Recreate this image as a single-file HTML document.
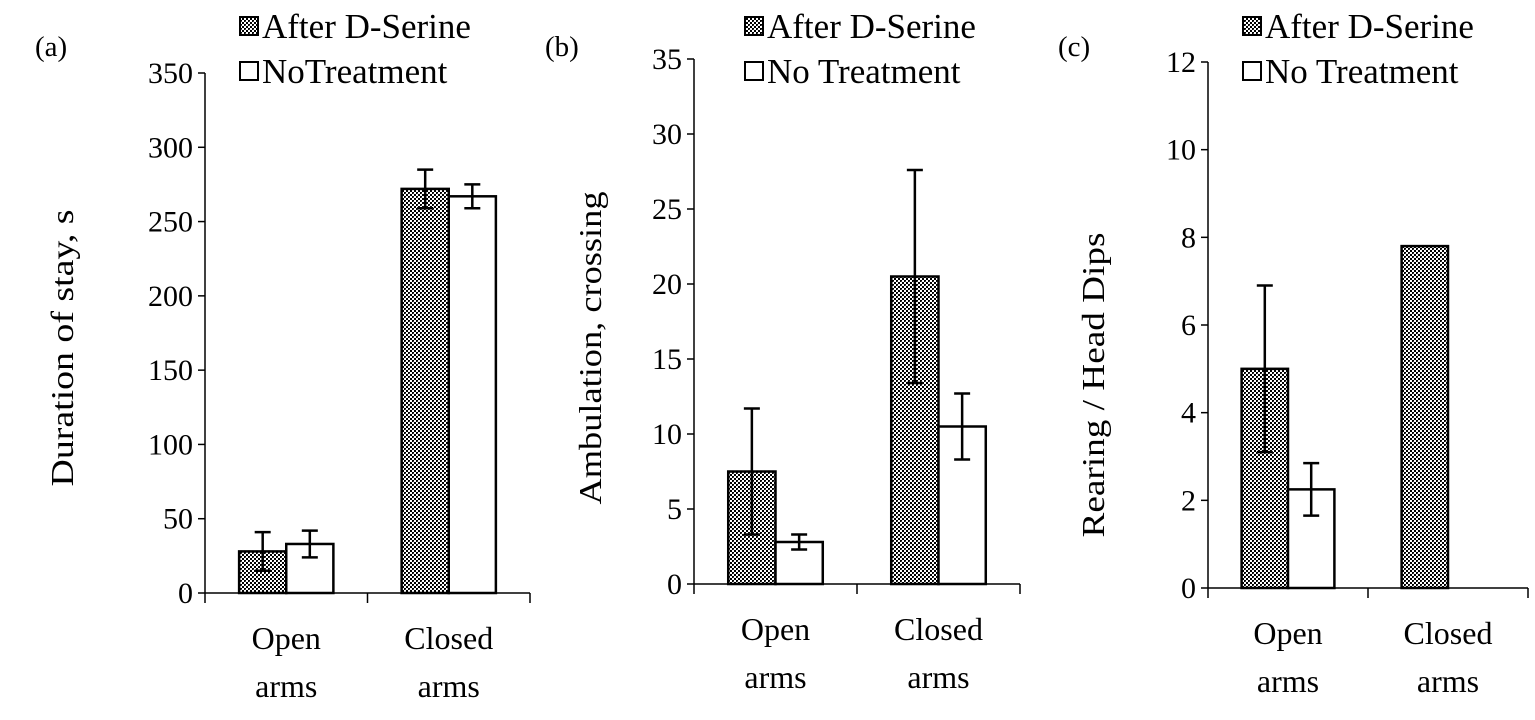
<!DOCTYPE html>
<html><head><meta charset="utf-8">
<style>
html,body{margin:0;padding:0;background:#fff;}
svg text{font-family:"Liberation Serif",serif;fill:#000;}
</style></head>
<body>
<svg id="chart" width="1535" height="715" viewBox="0 0 1535 715" xmlns="http://www.w3.org/2000/svg">
<defs>
<pattern id="chk" width="4" height="4" patternUnits="userSpaceOnUse">
<rect width="4" height="4" fill="#fff"/>
<rect x="0" y="0" width="2" height="2" fill="#000"/>
<rect x="2" y="2" width="2" height="2" fill="#000"/>
<rect x="1" y="1" width="1" height="1" fill="#444"/>
</pattern>
</defs>
</svg>
<script>
const categories = ["Open|arms", "Closed|arms"];
const seriesNames = ["After D-Serine", "No Treatment"];
const aAfter = [28, 272], aAfterErr = [13, 13];
const aNo = [33, 267], aNoErr = [9, 8];
const bAfter = [7.5, 20.5], bAfterErr = [4.2, 7.1];
const bNo = [2.8, 10.5], bNoErr = [0.5, 2.2];
const cAfter = [5, 7.8], cAfterErr = [1.9, 0];
const cNo = [2.25, 0], cNoErr = [0.6, 0];
const aTicks = [0,50,100,150,200,250,300,350];
const bTicks = [0,5,10,15,20,25,30,35];
const cTicks = [0,2,4,6,8,10,12];

const NS = "http://www.w3.org/2000/svg";
const svg = document.getElementById('chart');
function el(tag, attrs, parent){const e=document.createElementNS(NS,tag);for(const k in attrs)e.setAttribute(k,attrs[k]);(parent||svg).appendChild(e);return e;}

const panels = [
 {id:'a',label:'(a)',lx:35,x0:205,x1:530,top:73,bot:593,max:350,ticks:aTicks,after:aAfter,ae:aAfterErr,no:aNo,ne:aNoErr,title:'Duration of stay, s',tx:73,tcy:348,tlen:277,leg2:'NoTreatment',legx:240},
 {id:'b',label:'(b)',lx:545,x0:694,x1:1020,top:59,bot:584,max:35,ticks:bTicks,after:bAfter,ae:bAfterErr,no:bNo,ne:bNoErr,title:'Ambulation, crossing',tx:601,tcy:348,tlen:313,leg2:'No Treatment',legx:745},
 {id:'c',label:'(c)',lx:1058,x0:1208,x1:1528,top:62,bot:588,max:12,ticks:cTicks,after:cAfter,ae:cAfterErr,no:cNo,ne:cNoErr,title:'Rearing / Head Dips',tx:1104,tcy:385,tlen:305,leg2:'No Treatment',legx:1243}
];

panels.forEach(p=>{
 const g = el('g',{});
 
 
 const y = v => p.bot - v/p.max*(p.bot-p.top);
 const groupW = (p.x1-p.x0)/2;
 const barW = groupW*0.29;
 const t = el('text',{x:p.lx,y:56,'font-size':29},g); t.textContent=p.label;
 
 
 const ax = el('path',{d:`M${p.x0},${p.top}V${p.bot}M${p.x0},${p.bot}H${p.x1}`,stroke:'#000','stroke-width':1.5,fill:'none'},g);
 
 
 p.ticks.forEach(v=>{
  el('line',{x1:p.x0-7,x2:p.x0,y1:y(v),y2:y(v),stroke:'#000','stroke-width':1.5},g);
  const tl = el('text',{x:p.x0-12,y:y(v)+10,'font-size':30,'text-anchor':'end'},g);
  tl.textContent=v;
  
  
 });
 for(let i=0;i<=2;i++){const xx=p.x0+i*groupW;el('line',{x1:xx,x2:xx,y1:p.bot,y2:p.bot+10,stroke:'#000','stroke-width':1.5},g);}
 categories.forEach((c,i)=>{
  const cx = p.x0+groupW*(i+0.5);
  c.split('|').forEach((w,j)=>{
   const tl=el('text',{x:cx,y:p.bot+56+j*48,'font-size':32,'text-anchor':'middle'},g);
   tl.textContent=w;
   
   
  });
  [[p.after,p.ae,'url(#chk)',-1],[p.no,p.ne,'#fff',0]].forEach(([vals,errs,fill,off])=>{
   const v=vals[i]; if(v<=0) return;
   const bx = cx+off*barW;
   const r=el('rect',{x:bx,y:y(v),width:barW,height:p.bot-y(v),fill:fill,stroke:'#000','stroke-width':2.5},g);
   
   
   const e=errs[i];
   if(e>0){
    const mx=bx+barW/2;
    const eb=el('path',{d:`M${mx},${y(v+e)}V${y(v-e)}M${mx-8},${y(v+e)}H${mx+8}M${mx-8},${y(v-e)}H${mx+8}`,stroke:'#000','stroke-width':2.5,fill:'none'},g);
    
    
   }
  });
 });
 const yt=el('text',{x:0,y:0,'font-size':32,'text-anchor':'middle',textLength:p.tlen,lengthAdjust:'spacingAndGlyphs',transform:`translate(${p.tx},${p.tcy}) rotate(-90)`},g);
 yt.textContent=p.title;
 
 
 [[seriesNames[0],'url(#chk)',27],[p.leg2,'#fff',72]].forEach(([n,f,ly])=>{
  const lg=el('g',{},g);
  
  
  el('rect',{x:p.legx,y:ly-10,width:18,height:18,fill:f,stroke:'#000','stroke-width':2},lg);
  const lt=el('text',{x:p.legx+22,y:ly+11,'font-size':35},lg); lt.textContent=n;
 });
});
</script>
</body></html>
